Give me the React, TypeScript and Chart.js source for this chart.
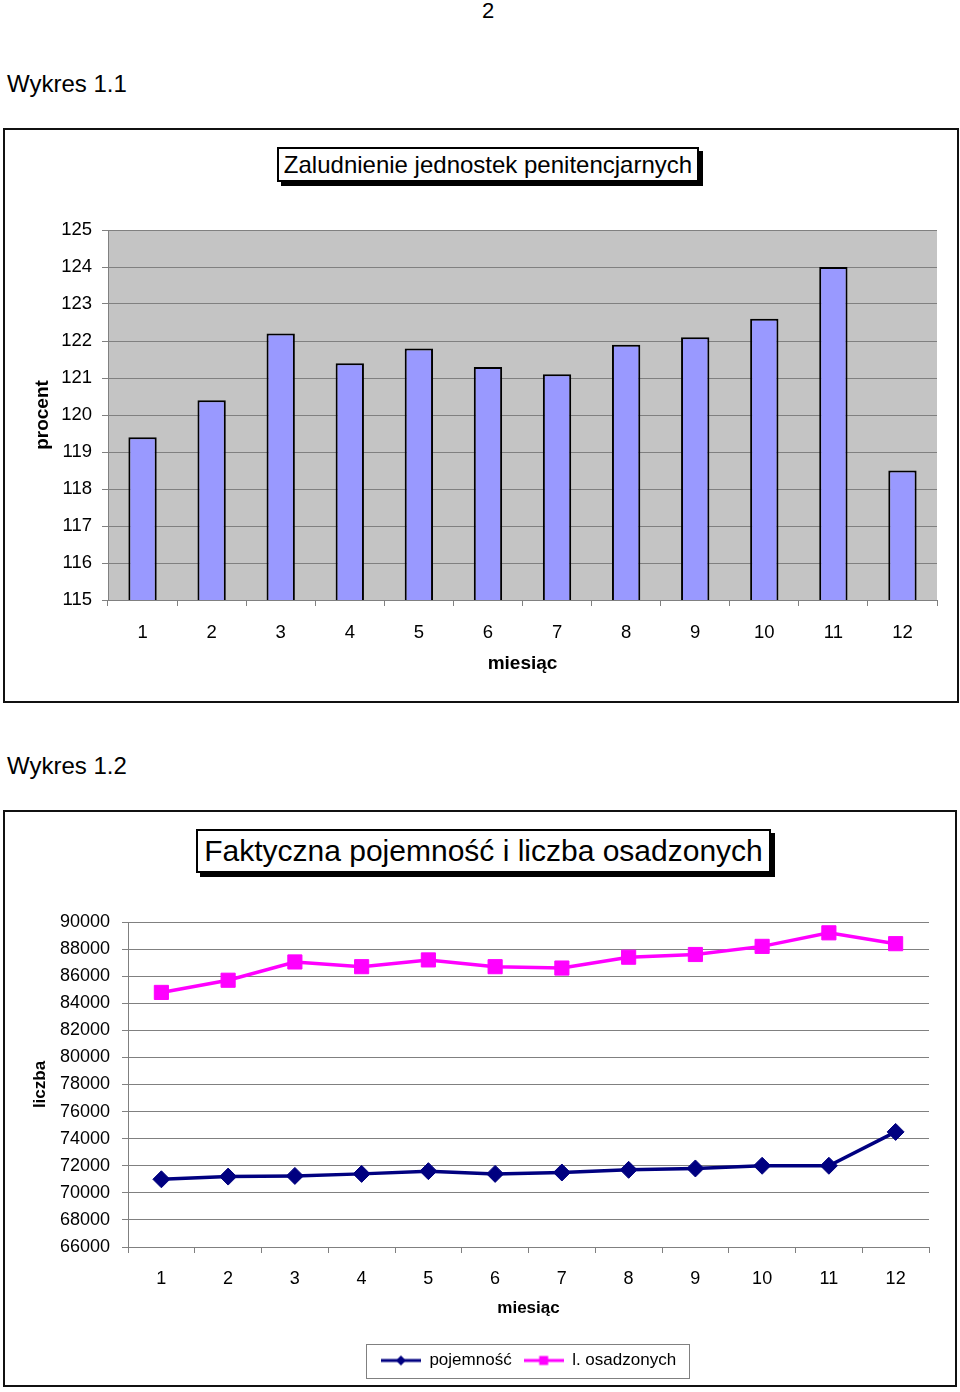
import React, { useEffect, useRef } from "react";
import { Chart, registerables } from "chart.js";

Chart.register(...registerables);

const FONT = "'Liberation Sans', Arial, sans-serif";

// Wykres 1.1
const months = ["1", "2", "3", "4", "5", "6", "7", "8", "9", "10", "11", "12"];
const occupancyPct = [119.4, 120.4, 122.2, 121.4, 121.8, 121.3, 121.1, 121.9, 122.1, 122.6, 124.0, 118.5];
const pctMin = 115;
const pctMax = 125;
const pctStep = 1;

// Wykres 1.2
const capacity = [71000, 71200, 71250, 71400, 71600, 71400, 71500, 71700, 71800, 72000, 72000, 74500];
const inmates = [84800, 85700, 87050, 86700, 87200, 86700, 86600, 87400, 87600, 88200, 89200, 88400];
const countMin = 66000;
const countMax = 90000;
const countStep = 2000;
const seriesNames = ["pojemność", "l. osadzonych"];

const plotBg = {
  id: "plotBg",
  beforeDraw(chart: any, _a: any, opts: any) {
    if (!opts || !opts.color) return;
    const { ctx, chartArea } = chart;
    ctx.save();
    ctx.fillStyle = opts.color;
    ctx.fillRect(chartArea.left, chartArea.top, chartArea.right - chartArea.left, chartArea.bottom - chartArea.top);
    ctx.restore();
  },
};

const legendFrame = {
  id: "legendFrame",
  afterDraw(chart: any, _a: any, opts: any) {
    if (!opts || !opts.enabled) return;
    const l = chart.legend;
    if (!l || !l.legendHitBoxes || !l.legendHitBoxes.length) return;
    const hb = l.legendHitBoxes;
    let minL = Infinity, maxR = -Infinity;
    hb.forEach((b: any) => {
      minL = Math.min(minL, b.left);
      maxR = Math.max(maxR, b.left + b.width);
    });
    const cy = hb[0].top + hb[0].height / 2;
    const ctx = chart.ctx;
    ctx.save();
    ctx.strokeStyle = "#808080";
    ctx.lineWidth = 1;
    ctx.strokeRect(Math.round(minL - 15) + 0.5, Math.round(cy - 17) + 0.5, Math.round(maxR - minL + 28), 34);
    ctx.restore();
  },
};

function makeMarker(color: string, kind: "diamond" | "square") {
  const c = document.createElement("canvas");
  c.width = 40;
  c.height = 14;
  const g = c.getContext("2d")!;
  g.strokeStyle = color;
  g.lineWidth = 3;
  g.beginPath();
  g.moveTo(0, 7);
  g.lineTo(40, 7);
  g.stroke();
  g.fillStyle = color;
  g.beginPath();
  if (kind === "diamond") {
    g.moveTo(20, 2);
    g.lineTo(25, 7);
    g.lineTo(20, 12);
    g.lineTo(15, 7);
    g.closePath();
  } else {
    g.rect(15.5, 2.5, 9, 9);
  }
  g.fill();
  return c;
}

function BarChart() {
  const ref = useRef<HTMLCanvasElement>(null);
  useEffect(() => {
    const chart = new Chart(ref.current!, {
      type: "bar",
      data: {
        labels: months,
        datasets: [
          {
            data: occupancyPct,
            backgroundColor: "#9999ff",
            borderColor: "#000000",
            borderWidth: 2,
            borderSkipped: false,
            barPercentage: 0.41,
            categoryPercentage: 1,
          },
        ],
      },
      options: {
        animation: false,
        responsive: false,
        layout: { padding: { top: 35, right: 20, left: 0, bottom: 0 } },
        plugins: {
          legend: { display: false },
          tooltip: { enabled: false },
          plotBg: { color: "#c4c4c4" },
        } as any,
        scales: {
          x: {
            offset: true,
            grid: { offset: true, drawOnChartArea: false, color: "#808080", tickLength: 6 },
            border: { color: "#808080" },
            ticks: { color: "#000", font: { family: FONT, size: 18.5 }, padding: 16, maxRotation: 0 },
            title: { display: true, text: "miesiąc", color: "#000", font: { family: FONT, size: 19, weight: "bold" }, padding: { bottom: 15, top: 0 } },
            afterFit: (s: any) => { s.height = 90; },
          },
          y: {
            min: pctMin,
            max: pctMax,
            ticks: { stepSize: pctStep, color: "#000", font: { family: FONT, size: 18.5 }, padding: 10 },
            grid: { color: "#808080", tickLength: 6 },
            border: { color: "#808080" },
            title: { display: true, text: "procent", color: "#000", font: { family: FONT, size: 19, weight: "bold" }, padding: { top: 26, bottom: 0 } },
            afterFit: (s: any) => { s.width = 103; },
          },
        },
      },
      plugins: [plotBg],
    });
    return () => chart.destroy();
  }, []);
  return <canvas ref={ref} width={952} height={495} style={{ position: "absolute", left: 5, top: 195, width: 952, height: 495 }} />;
}

function LineChart() {
  const ref = useRef<HTMLCanvasElement>(null);
  useEffect(() => {
    const markers = [makeMarker("#000080", "diamond"), makeMarker("#ff00ff", "square")];
    const chart = new Chart(ref.current!, {
      type: "line",
      data: {
        labels: months,
        datasets: [
          {
            label: seriesNames[0],
            data: capacity,
            borderColor: "#000080",
            backgroundColor: "#000080",
            borderWidth: 3.5,
            pointStyle: "rectRot",
            pointRadius: 8.5,
            pointBorderWidth: 1,
            tension: 0,
          },
          {
            label: seriesNames[1],
            data: inmates,
            borderColor: "#ff00ff",
            backgroundColor: "#ff00ff",
            borderWidth: 3.5,
            pointStyle: "rect",
            pointRadius: 10,
            pointBorderWidth: 1,
            tension: 0,
          },
        ],
      },
      options: {
        animation: false,
        responsive: false,
        layout: { padding: { top: 42, right: 26, left: 0, bottom: 6 } },
        plugins: {
          tooltip: { enabled: false },
          legend: {
            display: true,
            position: "bottom",
            fullSize: false,
            labels: {
              usePointStyle: true,
              pointStyleWidth: 40,
              color: "#000",
              font: { family: FONT, size: 17 },
              padding: 12,
              generateLabels: (ch: any) =>
                ch.data.datasets.map((d: any, i: number) => ({
                  text: d.label,
                  pointStyle: markers[i],
                  fillStyle: d.borderColor,
                  strokeStyle: d.borderColor,
                  lineWidth: 0,
                  hidden: false,
                  datasetIndex: i,
                  fontColor: "#000",
                })),
            },
          },
          legendFrame: { enabled: true },
        } as any,
        scales: {
          x: {
            offset: true,
            grid: { offset: true, drawOnChartArea: false, color: "#808080", tickLength: 6 },
            border: { color: "#808080" },
            ticks: { color: "#000", font: { family: FONT, size: 18 }, padding: 15, maxRotation: 0 },
            title: { display: true, text: "miesiąc", color: "#000", font: { family: FONT, size: 17, weight: "bold" }, padding: { bottom: 21, top: 0 } },
            afterFit: (s: any) => { s.height = 93; },
          },
          y: {
            min: countMin,
            max: countMax,
            ticks: { stepSize: countStep, color: "#000", font: { family: FONT, size: 18 }, padding: 12, callback: (v: any) => String(v) },
            grid: { color: "#808080", tickLength: 6 },
            border: { color: "#808080" },
            title: { display: true, text: "liczba", color: "#000", font: { family: FONT, size: 17, weight: "bold" }, padding: { top: 25, bottom: 0 } },
            afterFit: (s: any) => { s.width = 123; },
          },
        },
      },
      plugins: [legendFrame],
    });
    return () => chart.destroy();
  }, []);
  return <canvas ref={ref} width={950} height={505} style={{ position: "absolute", left: 5, top: 880, width: 950, height: 505 }} />;
}

const boxStyle = (left: number, top: number, width: number, height: number): React.CSSProperties => ({
  position: "absolute",
  left,
  top,
  width,
  height,
  boxSizing: "border-box",
  border: "2px solid #111",
  background: "#fff",
});

const titleStyle = (left: number, top: number, width: number, height: number, size: number): React.CSSProperties => ({
  position: "absolute",
  left,
  top,
  width,
  height,
  boxSizing: "border-box",
  border: "2px solid #000",
  background: "#fff",
  boxShadow: "4px 4px 0 #000",
  display: "flex",
  alignItems: "center",
  justifyContent: "center",
  fontSize: size,
  lineHeight: 1,
  whiteSpace: "nowrap",
  zIndex: 2,
});

export default function App() {
  return (
    <div style={{ position: "absolute", left: 0, top: 0, width: 960, height: 1392, background: "#fff", fontFamily: FONT, color: "#000", overflow: "hidden" }}>
      <div style={{ position: "absolute", left: 482, top: 0, fontSize: 22, lineHeight: 1 }}>2</div>
      <div style={{ position: "absolute", left: 7, top: 72, fontSize: 24, lineHeight: 1 }}>Wykres 1.1</div>
      <div style={boxStyle(3, 128, 956, 575)} />
      <div style={titleStyle(277, 147, 422, 35, 24)}>Zaludnienie jednostek penitencjarnych</div>
      <BarChart />
      <div style={{ position: "absolute", left: 7, top: 754, fontSize: 24, lineHeight: 1 }}>Wykres 1.2</div>
      <div style={boxStyle(3, 810, 954, 577)} />
      <div style={titleStyle(196, 829, 575, 44, 30)}>Faktyczna pojemność i liczba osadzonych</div>
      <LineChart />
    </div>
  );
}
